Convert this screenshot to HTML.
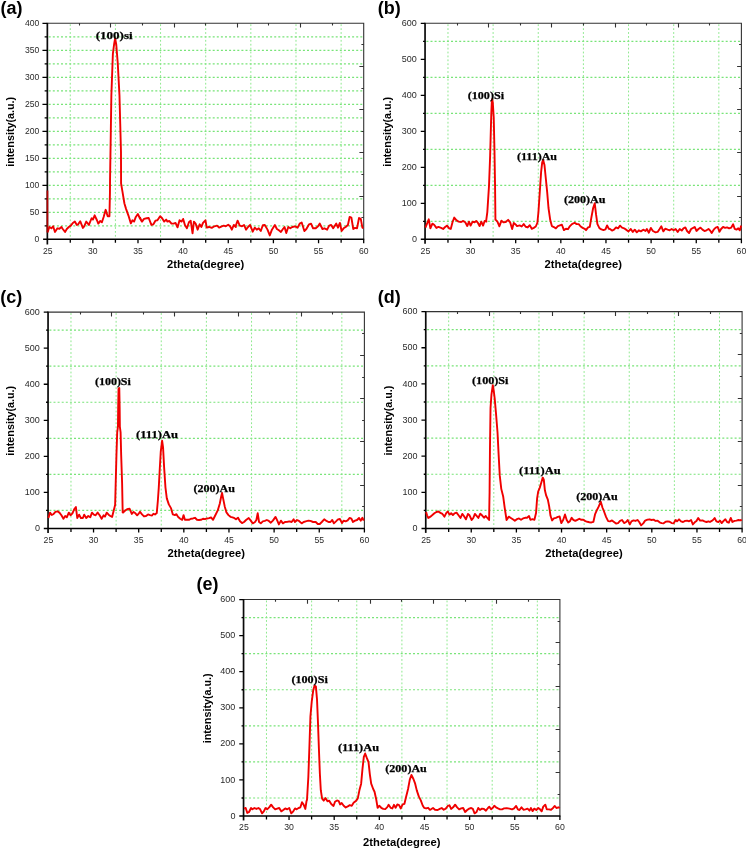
<!DOCTYPE html>
<html><head><meta charset="utf-8"><title>XRD patterns</title>
<style>
html,body{margin:0;padding:0;background:#fff}
svg{display:block}
text{font-family:"Liberation Sans",sans-serif;fill:#000}
.tk text{font-size:8.6px;fill:#2a2a2a}
.tk2 text{font-size:9px}
.tk2 text.xt{font-size:8.7px}
.ax{font-size:10px;font-weight:bold}
.pk{font-family:"Liberation Serif",serif;font-size:10.9px;font-weight:bold;stroke:#000;stroke-width:0.25px}
.pl{font-size:18px;font-weight:bold}
</style></head><body>
<svg width="746" height="848" viewBox="0 0 746 848">
<rect width="746" height="848" fill="#fff"/>
<g><path d="M48.7 225.8H363.7M48.7 212.3H363.7M48.7 198.8H363.7M48.7 185.3H363.7M48.7 171.8H363.7M48.7 158.3H363.7M48.7 144.8H363.7M48.7 131.3H363.7M48.7 117.8H363.7M48.7 104.3H363.7M48.7 90.8H363.7M48.7 77.3H363.7M48.7 63.8H363.7M48.7 50.3H363.7M48.7 36.8H363.7" stroke="#78e478" stroke-width="1.2" stroke-dasharray="2 2.1" fill="none"/>
<path d="M70.27 24.3V238.3M115.41 24.3V238.3M160.56 24.3V238.3M205.7 24.3V238.3M250.84 24.3V238.3M295.99 24.3V238.3M341.13 24.3V238.3" stroke="#88e888" stroke-width="0.95" stroke-dasharray="1.8 2.1" fill="none"/>
<path d="M47.7 23.3H363.7V239.3M79.5 23.3v2.3M363.7 44.5h-2.3M110.5 23.3v4.3M363.7 66.5h-4.3M142.5 23.3v2.3M363.7 88.5h-2.3M174.5 23.3v4.3M363.7 109.5h-4.3M205.5 23.3v2.3M363.7 131.5h-2.3M237.5 23.3v4.3M363.7 152.5h-4.3M268.5 23.3v2.3M363.7 174.5h-2.3M300.5 23.3v4.3M363.7 196.5h-4.3M332.5 23.3v2.3M363.7 217.5h-2.3" stroke="#333" stroke-width="1.1" fill="none"/>
<path d="M47.35 22.8V244.5" stroke="#0a0a0a" stroke-width="1.7" fill="none"/>
<path d="M43.1 239.3H364.2" stroke="#000" stroke-width="1.55" fill="none"/>
<path d="M47.35 225.8h-2.7M47.35 212.3h-4.9M47.35 198.8h-2.7M47.35 185.3h-4.9M47.35 171.8h-2.7M47.35 158.3h-4.9M47.35 144.8h-2.7M47.35 131.3h-4.9M47.35 117.8h-2.7M47.35 104.3h-4.9M47.35 90.8h-2.7M47.35 77.3h-4.9M47.35 63.8h-2.7M47.35 50.3h-4.9M47.35 36.8h-2.7M47.35 23.3h-4.9M70.27 239.3v3.4M92.84 239.3v3.9M115.41 239.3v3.4M137.99 239.3v3.9M160.56 239.3v3.4M183.13 239.3v3.9M205.7 239.3v3.4M228.27 239.3v3.9M250.84 239.3v3.4M273.41 239.3v3.9M295.99 239.3v3.4M318.56 239.3v3.9M341.13 239.3v3.4M363.7 239.3v3.9" stroke="#000" stroke-width="1.3" fill="none"/>
<path d="M47.62 232.33 49.36 226.97 51.37 228.31 53.12 226.3 54.99 231.93 57.4 228.31 59.42 228.71 61.43 226.97 62.77 228.98 65.05 231.93 66.79 228.98 68.8 226.97 70.81 225.63 72.82 222.95 74.83 221.61 76.84 224.96 78.18 224.29 80.19 221.21 82.87 227.91 84.21 226.3 86.23 221.61 88.91 224.96 91.59 218.26 92.93 219.6 94.67 215.31 96.95 220.27 98.29 223.62 100.3 220.94 101.91 222.28 103.65 216.92 105.66 209.81 107.67 216.25 109.42 216.25 109.95 192.79 110.04 180 110.79 133.21 111.36 95.47 112.87 53.96 114.19 43.58 115.13 38.3 116.26 44.53 117.77 63.4 119.47 95.47 120.23 123.77 120.98 152.08 121.08 183.4 122.42 191.45 124.43 203.51 126.04 208.87 128.45 215.58 130.86 223.35 132.47 220.27 134.08 221.61 135.82 216.92 137.83 213.97 139.84 218.26 141.86 221.61 140 217.59 142.01 221.61 144.02 218.93 146.7 218.26 148.71 217.99 151.39 224.96 153.4 224.29 155.42 220.67 157.43 220.27 160.11 216.25 162.12 218.26 164.13 221.61 166.14 219.6 167.48 221.61 169.22 220.94 171.5 223.62 173.51 223.62 175.52 222.95 177.53 227.37 179.54 220.27 181.55 221.61 183.16 218.93 184.91 224.96 186.92 228.31 188.93 222.28 190.67 220.67 192.55 233.27 193.89 221.61 195.63 223.62 197.64 229.65 199.65 224.29 201.39 226.97 203 222.95 205.42 220.27 206.76 227.64 209.03 226.97 211.72 227.91 214.4 226.3 217.08 225.63 219.09 227.64 221.77 226.3 223.78 225.63 225.79 226.3 228.2 224.69 230.08 226.3 231.82 229.65 233.83 224.96 235.84 226.97 236 224.96 237.61 220.67 239.75 225.63 242.03 226.3 244.04 224.96 246.05 229.65 248.06 226.97 250.08 224.96 252.76 231.66 254.77 227.64 256.78 229.65 258.79 228.31 260.8 230.99 262.81 225.23 264.82 224.96 267.5 229.65 269.78 235.42 271.92 229.65 274.87 224.96 276.88 228.98 278.9 230.32 280.91 231.93 282.92 228.98 284.53 226.97 286.27 233 288.28 226.97 290.29 228.31 292.3 226.97 294.98 226.3 297.66 227.64 299.67 223.62 301.68 222.55 304.36 230.99 306.38 228.98 309.06 224.29 311.07 223.62 313.08 228.31 315.76 228.31 318.04 226.3 319.78 223.62 322.46 228.98 324.47 228.31 327.15 229.65 329.16 225.63 331.17 224.96 333.18 228.31 336.25 223.62 337.99 227.64 339.87 222.95 341.61 230.99 343.62 228.31 345.63 226.97 347.91 224.96 349.65 216.92 351.39 217.59 353.27 228.98 355.01 227.91 357.02 228.31 359.03 217.99 360.78 218.93 362.39 227.64 363.46 228.31" stroke="#f00000" stroke-width="1.9" fill="none" stroke-linejoin="round" stroke-linecap="butt"/>
<path d="M47.45 190.5V232.5" stroke="#b00000" stroke-width="1.7" fill="none"/>
<g class="tk"><text x="39.3" y="242.4" text-anchor="end">0</text><text x="39.3" y="215.4" text-anchor="end">50</text><text x="39.3" y="188.4" text-anchor="end">100</text><text x="39.3" y="161.4" text-anchor="end">150</text><text x="39.3" y="134.4" text-anchor="end">200</text><text x="39.3" y="107.4" text-anchor="end">250</text><text x="39.3" y="80.4" text-anchor="end">300</text><text x="39.3" y="53.4" text-anchor="end">350</text><text x="39.3" y="26.4" text-anchor="end">400</text><text x="47.7" y="253.8" text-anchor="middle" class="xt">25</text><text x="92.84" y="253.8" text-anchor="middle" class="xt">30</text><text x="137.99" y="253.8" text-anchor="middle" class="xt">35</text><text x="183.13" y="253.8" text-anchor="middle" class="xt">40</text><text x="228.27" y="253.8" text-anchor="middle" class="xt">45</text><text x="273.41" y="253.8" text-anchor="middle" class="xt">50</text><text x="318.56" y="253.8" text-anchor="middle" class="xt">55</text><text x="363.7" y="253.8" text-anchor="middle" class="xt">60</text></g>
<text class="ax" x="166.9" y="267.6" textLength="77.4" lengthAdjust="spacingAndGlyphs">2theta(degree)</text>
<text class="ax" transform="translate(13.7 131.8) rotate(-90)" x="-35" y="0" textLength="70" lengthAdjust="spacingAndGlyphs">intensity(a.u.)</text>
<text class="pk" x="95.7" y="38.9" textLength="37" lengthAdjust="spacingAndGlyphs">(100)si</text>
<text class="pl" x="0.4" y="14.2">(a)</text></g>
<g><path d="M426.4 221.3H741.4M426.4 185.3H741.4M426.4 149.3H741.4M426.4 113.3H741.4M426.4 77.3H741.4M426.4 41.3H741.4" stroke="#78e478" stroke-width="1.2" stroke-dasharray="2 2.1" fill="none"/>
<path d="M447.97 24.3V238.3M493.11 24.3V238.3M538.26 24.3V238.3M583.4 24.3V238.3M628.54 24.3V238.3M673.69 24.3V238.3M718.83 24.3V238.3" stroke="#88e888" stroke-width="0.95" stroke-dasharray="1.8 2.1" fill="none"/>
<path d="M425.4 23.3H741.4V239.3M457.5 23.3v2.3M741.4 44.5h-2.3M488.5 23.3v4.3M741.4 66.5h-4.3M520.5 23.3v2.3M741.4 88.5h-2.3M551.5 23.3v4.3M741.4 109.5h-4.3M583.5 23.3v2.3M741.4 131.5h-2.3M615.5 23.3v4.3M741.4 152.5h-4.3M646.5 23.3v2.3M741.4 174.5h-2.3M678.5 23.3v4.3M741.4 196.5h-4.3M709.5 23.3v2.3M741.4 217.5h-2.3" stroke="#333" stroke-width="1.1" fill="none"/>
<path d="M425.05 22.8V243.7" stroke="#0a0a0a" stroke-width="1.7" fill="none"/>
<path d="M420.8 239.3H741.9" stroke="#000" stroke-width="1.55" fill="none"/>
<path d="M425.05 221.3h-2M425.05 203.3h-4.3M425.05 185.3h-2M425.05 167.3h-4.3M425.05 149.3h-2M425.05 131.3h-4.3M425.05 113.3h-2M425.05 95.3h-4.3M425.05 77.3h-2M425.05 59.3h-4.3M425.05 41.3h-2M425.05 23.3h-4.3M447.97 239.3v3.4M470.54 239.3v3.9M493.11 239.3v3.4M515.69 239.3v3.9M538.26 239.3v3.4M560.83 239.3v3.9M583.4 239.3v3.4M605.97 239.3v3.9M628.54 239.3v3.4M651.11 239.3v3.9M673.69 239.3v3.4M696.26 239.3v3.9M718.83 239.3v3.4M741.4 239.3v3.9" stroke="#000" stroke-width="1.3" fill="none"/>
<path d="M425.42 227.64 427.03 223.62 428.77 219.33 430.38 228.31 432.39 223.62 434.14 224.69 436.42 227.91 438.43 226.97 441.11 227.91 443.12 228.98 445.13 226.97 447.14 225.63 449.15 228.31 450.76 228.98 452.5 222.28 454.24 217.59 456.52 220.27 458.53 221.61 461.21 222.01 463.23 220.94 465.24 222.28 467.25 226.03 468.99 221.61 470.6 225.63 472.61 221.61 474.62 222.28 476.23 220.94 477.97 222.95 479.58 226.03 481.32 221.61 483.06 225.63 484.67 220.94 486.42 221.61 486.19 220.57 487.32 212.08 489.02 185.66 490.15 155.47 490.91 127.17 491.28 113.96 491.85 100.75 492.23 98.87 492.79 102.64 493.74 117.74 494.49 151.7 495.06 185.66 495.43 219.62 495.53 219.6 497.41 221.61 499.42 226.3 501.43 220.67 503.44 222.28 505.72 222.01 508.13 219.87 510.14 222.28 512.15 228.98 513.76 222.95 516.17 224.96 517 226.1 519.68 225.43 521.69 226.5 523.7 224.09 525.71 226.77 527.72 227.44 529.73 225.16 531.75 228.78 533.76 227.84 535.77 226.5 537.38 222.75 538.45 212.02 539.79 191.92 541.13 171.81 542.2 162.43 543.14 160.01 544.48 165.11 545.82 178.51 547.16 191.92 548.5 208 550.24 220.07 551.85 226.1 553.86 227.04 555.87 228.38 557.88 226.1 559.9 225.43 561.91 224.76 563.92 230.12 565.93 228.78 567.94 229.18 569.95 226.1 571.96 224.09 574.64 222.75 576.65 224.09 578.66 224.09 580.67 226.5 582.68 227.84 584.69 228.78 586.03 230.12 588.05 227.44 589.79 226.77 591.4 217.39 593.14 208 594.75 203.31 596.09 214.71 597.43 224.09 599.44 228.11 601.45 229.45 603.46 230.12 605.47 229.45 607.08 225.43 608.82 228.78 610 228.98 612.01 230.59 614.02 229.65 616.03 227.37 618.04 228.31 620.05 225.63 622.06 227.64 624.08 228.31 626.09 229.65 628.5 231.39 630.78 228.98 632.79 231.93 634.8 229.65 636.81 232.33 638.82 230.32 640.83 231.39 643.24 229.65 645.52 230.99 646.86 228.98 648.87 232.73 650.88 227.91 652.9 230.99 655.58 232.33 657.59 231.93 659.6 228.98 661.34 226.3 663.35 231.39 665.23 228.71 667.64 229.65 669.65 230.32 671.66 228.98 673.67 230.32 675.68 228.98 677.69 231.93 679.71 228.98 681.72 230.59 683.46 228.31 685.34 227.37 687.08 230.99 689.09 233 691.1 228.98 693.11 227.91 694.72 226.97 696.46 230.99 698.47 228.98 700.48 227.64 702.49 229.65 704.5 230.99 706.51 230.32 708.53 228.98 709.94 230.32 711.68 233 713.69 229.65 715.71 227.64 717.72 226.97 719.46 231.66 721.07 228.98 723.08 226.97 725.09 227.91 727.1 227.37 729.11 228.31 731.12 227.64 733.13 224.29 734.74 228.98 736.48 229.65 738.23 228.31 739.83 230.32 741.17 225.63" stroke="#f00000" stroke-width="1.9" fill="none" stroke-linejoin="round" stroke-linecap="butt"/>
<g class="tk tk2"><text x="416.9" y="241.9" text-anchor="end">0</text><text x="416.9" y="205.9" text-anchor="end">100</text><text x="416.9" y="169.9" text-anchor="end">200</text><text x="416.9" y="133.9" text-anchor="end">300</text><text x="416.9" y="97.9" text-anchor="end">400</text><text x="416.9" y="61.9" text-anchor="end">500</text><text x="416.9" y="25.9" text-anchor="end">600</text><text x="425.4" y="253.9" text-anchor="middle" class="xt">25</text><text x="470.54" y="253.9" text-anchor="middle" class="xt">30</text><text x="515.69" y="253.9" text-anchor="middle" class="xt">35</text><text x="560.83" y="253.9" text-anchor="middle" class="xt">40</text><text x="605.97" y="253.9" text-anchor="middle" class="xt">45</text><text x="651.11" y="253.9" text-anchor="middle" class="xt">50</text><text x="696.26" y="253.9" text-anchor="middle" class="xt">55</text><text x="741.4" y="253.9" text-anchor="middle" class="xt">60</text></g>
<text class="ax" x="544.6" y="267.9" textLength="77.4" lengthAdjust="spacingAndGlyphs">2theta(degree)</text>
<text class="ax" transform="translate(391.4 131.8) rotate(-90)" x="-35" y="0" textLength="70" lengthAdjust="spacingAndGlyphs">intensity(a.u.)</text>
<text class="pk" x="467.7" y="98.6" textLength="36.4" lengthAdjust="spacingAndGlyphs">(100)Si</text>
<text class="pk" x="517" y="159.5" textLength="40" lengthAdjust="spacingAndGlyphs">(111)Au</text>
<text class="pk" x="563.9" y="203.3" textLength="41.6" lengthAdjust="spacingAndGlyphs">(200)Au</text>
<text class="pl" x="377.8" y="14.2">(b)</text></g>
<g><path d="M49.4 510.47H364.4M49.4 474.4H364.4M49.4 438.33H364.4M49.4 402.27H364.4M49.4 366.2H364.4M49.4 330.13H364.4" stroke="#78e478" stroke-width="1.2" stroke-dasharray="2 2.1" fill="none"/>
<path d="M70.97 313.1V527.5M116.11 313.1V527.5M161.26 313.1V527.5M206.4 313.1V527.5M251.54 313.1V527.5M296.69 313.1V527.5M341.83 313.1V527.5" stroke="#88e888" stroke-width="0.95" stroke-dasharray="1.8 2.1" fill="none"/>
<path d="M48.4 312.1H364.4V528.5M80.5 312.1v2.3M364.4 333.5h-2.3M111.5 312.1v4.3M364.4 355.5h-4.3M143.5 312.1v2.3M364.4 377.5h-2.3M174.5 312.1v4.3M364.4 398.5h-4.3M206.5 312.1v2.3M364.4 420.5h-2.3M238.5 312.1v4.3M364.4 441.5h-4.3M269.5 312.1v2.3M364.4 463.5h-2.3M301.5 312.1v4.3M364.4 485.5h-4.3M332.5 312.1v2.3M364.4 506.5h-2.3" stroke="#333" stroke-width="1.1" fill="none"/>
<path d="M48.05 311.6V532.9" stroke="#0a0a0a" stroke-width="1.7" fill="none"/>
<path d="M43.8 528.5H364.9" stroke="#000" stroke-width="1.55" fill="none"/>
<path d="M48.05 510.47h-2M48.05 492.43h-4.3M48.05 474.4h-2M48.05 456.37h-4.3M48.05 438.33h-2M48.05 420.3h-4.3M48.05 402.27h-2M48.05 384.23h-4.3M48.05 366.2h-2M48.05 348.17h-4.3M48.05 330.13h-2M48.05 312.1h-4.3M70.97 528.5v3.4M93.54 528.5v3.9M116.11 528.5v3.4M138.69 528.5v3.9M161.26 528.5v3.4M183.83 528.5v3.9M206.4 528.5v3.4M228.97 528.5v3.9M251.54 528.5v3.4M274.11 528.5v3.9M296.69 528.5v3.4M319.26 528.5v3.9M341.83 528.5v3.4M364.4 528.5v3.9" stroke="#000" stroke-width="1.3" fill="none"/>
<path d="M48.42 517.98 50.03 512.62 51.77 515.03 53.65 513.96 55.39 511.95 57.4 511.28 59.42 512.62 61.43 515.3 63.44 518.65 65.18 515.97 66.79 517.31 68.8 512.62 70.54 515.3 72.42 513.29 74.16 509.27 75.9 506.99 77.24 517.98 79.12 514.63 80.86 517.98 82.87 517.98 84.21 514.63 86.23 517.98 88.24 515.97 90.25 517.31 91.99 512.62 93.87 514.63 95.61 515.3 97.62 512.62 99.63 515.3 101.64 518.65 103.65 515.3 104.99 516.64 106.73 512.62 108.61 514.63 110.35 515.97 112.1 516.91 113.71 510.61 115.05 505.25 115.13 504.91 115.7 483.21 116.45 454.91 117.21 432.26 117.96 426.6 118.15 409.62 118.53 388.87 119.28 387.92 119.66 407.74 119.85 426.6 120.6 432.26 121.17 454.91 122.11 483.21 122.68 512.45 123.09 512.62 125.1 510.61 127.11 509.27 129.52 508.6 131.8 513.96 133.54 511.95 135.42 513.29 137.16 515.3 138.91 513.29 140 511.75 142.01 514.43 144.02 516.44 146.03 516.04 148.04 514.43 150.05 515.1 152.06 515.5 153.4 513.76 155.01 514.43 156.76 513.09 157.83 501.02 158.77 487.62 159.84 467.51 160.78 451.43 162.12 440.7 163.06 447.4 164.13 467.51 165.47 487.62 166.81 498.34 168.82 504.38 171.1 508.4 172.84 514.43 174.85 515.1 176.46 514.16 178.2 517.11 180.21 518.72 182.23 519.79 183.57 515.1 184.91 519.79 186.92 519.79 188.93 519.79 190.94 518.72 192.95 518.45 194.96 517.78 196.97 519.79 198.98 520.06 200.99 519.79 203 518.72 205.01 519.12 207.02 518.45 209.03 518.18 211.05 517.38 213.06 519.79 215.07 515.77 217.75 510.41 219.76 503.71 221.1 497 222.04 492.98 223.11 498.34 224.72 506.39 226.46 512.42 228.47 515.1 230.48 516.84 232.49 517.38 234.5 518.18 236 519.32 238.01 517.71 240.02 521.33 242.03 523.08 244.04 522 246.05 519.99 248.73 517.98 250.75 520.66 252.76 523.34 254.77 522.27 256.38 519.99 257.72 513.29 259.06 522 260.8 523.34 262.81 521.33 264.82 520.93 266.83 519.99 268.84 520.93 270.85 522.67 272.86 520.66 275.54 516.91 277.29 520.66 278.9 524.42 280.91 520.66 282.92 523.34 284.93 522 287.61 521.73 289.62 521.33 291.63 522 293.64 519.32 294.98 522 296.99 519.99 299 520.93 301.68 523.34 303.69 522 305.71 521.33 308.39 520.66 310.4 520.93 313.08 522 315.76 522 317.77 524.01 319.78 524.01 321.79 522 324.2 519.32 326.48 520.93 328.49 522 330.5 522 332.25 519.99 333.86 523.34 335.98 521.33 337.99 519.32 339.87 519.05 342.01 523.08 343.62 520.66 345.63 521.33 347.64 520.39 349.65 517.98 351.39 518.65 353 522 355.01 520.66 357.02 519.99 359.03 517.98 360.78 520.66 362.39 517.71 363.73 520.66" stroke="#f00000" stroke-width="1.9" fill="none" stroke-linejoin="round" stroke-linecap="butt"/>
<g class="tk tk2"><text x="39.9" y="531.1" text-anchor="end">0</text><text x="39.9" y="495.03" text-anchor="end">100</text><text x="39.9" y="458.97" text-anchor="end">200</text><text x="39.9" y="422.9" text-anchor="end">300</text><text x="39.9" y="386.83" text-anchor="end">400</text><text x="39.9" y="350.77" text-anchor="end">500</text><text x="39.9" y="314.7" text-anchor="end">600</text><text x="48.4" y="542.8" text-anchor="middle" class="xt">25</text><text x="93.54" y="542.8" text-anchor="middle" class="xt">30</text><text x="138.69" y="542.8" text-anchor="middle" class="xt">35</text><text x="183.83" y="542.8" text-anchor="middle" class="xt">40</text><text x="228.97" y="542.8" text-anchor="middle" class="xt">45</text><text x="274.11" y="542.8" text-anchor="middle" class="xt">50</text><text x="319.26" y="542.8" text-anchor="middle" class="xt">55</text><text x="364.4" y="542.8" text-anchor="middle" class="xt">60</text></g>
<text class="ax" x="167.6" y="557.4" textLength="77.4" lengthAdjust="spacingAndGlyphs">2theta(degree)</text>
<text class="ax" transform="translate(14.4 420.8) rotate(-90)" x="-35" y="0" textLength="70" lengthAdjust="spacingAndGlyphs">intensity(a.u.)</text>
<text class="pk" x="94.9" y="384.7" textLength="36" lengthAdjust="spacingAndGlyphs">(100)Si</text>
<text class="pk" x="136" y="437.5" textLength="42" lengthAdjust="spacingAndGlyphs">(111)Au</text>
<text class="pk" x="193.4" y="491.9" textLength="41.5" lengthAdjust="spacingAndGlyphs">(200)Au</text>
<text class="pl" x="0.2" y="302.9">(c)</text></g>
<g><path d="M427.1 510.43H742.1M427.1 474.27H742.1M427.1 438.12H742.1M427.1 401.98H742.1M427.1 365.83H742.1M427.1 329.68H742.1" stroke="#78e478" stroke-width="1.2" stroke-dasharray="2 2.1" fill="none"/>
<path d="M448.67 312.6V527.5M493.81 312.6V527.5M538.96 312.6V527.5M584.1 312.6V527.5M629.24 312.6V527.5M674.39 312.6V527.5M719.53 312.6V527.5" stroke="#88e888" stroke-width="0.95" stroke-dasharray="1.8 2.1" fill="none"/>
<path d="M426.1 311.6H742.1V528.5M457.5 311.6v2.3M742.1 333.5h-2.3M489.5 311.6v4.3M742.1 354.5h-4.3M520.5 311.6v2.3M742.1 376.5h-2.3M552.5 311.6v4.3M742.1 398.5h-4.3M584.5 311.6v2.3M742.1 420.5h-2.3M615.5 311.6v4.3M742.1 441.5h-4.3M647.5 311.6v2.3M742.1 463.5h-2.3M678.5 311.6v4.3M742.1 485.5h-4.3M710.5 311.6v2.3M742.1 506.5h-2.3" stroke="#333" stroke-width="1.1" fill="none"/>
<path d="M425.75 311.1V532.9" stroke="#0a0a0a" stroke-width="1.7" fill="none"/>
<path d="M421.5 528.5H742.6" stroke="#000" stroke-width="1.55" fill="none"/>
<path d="M425.75 510.43h-2M425.75 492.35h-4.3M425.75 474.27h-2M425.75 456.2h-4.3M425.75 438.12h-2M425.75 420.05h-4.3M425.75 401.98h-2M425.75 383.9h-4.3M425.75 365.83h-2M425.75 347.75h-4.3M425.75 329.68h-2M425.75 311.6h-4.3M448.67 528.5v3.4M471.24 528.5v3.9M493.81 528.5v3.4M516.39 528.5v3.9M538.96 528.5v3.4M561.53 528.5v3.9M584.1 528.5v3.4M606.67 528.5v3.9M629.24 528.5v3.4M651.81 528.5v3.9M674.39 528.5v3.4M696.96 528.5v3.9M719.53 528.5v3.4M742.1 528.5v3.9" stroke="#000" stroke-width="1.3" fill="none"/>
<path d="M426.09 511.95 427.03 515.3 428.37 517.98 430.38 516.64 432.39 515.03 434.4 513.29 436.42 511.95 438.43 511.55 440.44 512.89 442.45 513.96 444.46 516.64 446.47 512.62 447.81 511.55 449.42 514.63 451.16 513.29 452.9 515.03 454.51 513.29 456.52 512.62 458.53 515.3 460.54 517.98 462.29 513.96 463.9 515.97 465.91 519.32 467.92 513.96 469.53 515.3 471.67 519.99 473.28 517.98 474.89 513.96 476.63 515.97 478.37 517.98 480.25 513.69 481.99 515.3 484 517.71 485.75 515.97 487.35 517.98 489.1 519.99 489.4 502.08 489.58 492.64 489.96 449.25 490.53 407.74 491.47 394.53 492.79 385.09 493.74 390.75 494.68 398.3 496 413.4 497.51 432.26 498.64 454.91 499.77 475.66 501.28 488.87 503.17 496.42 504.68 507.74 506.57 520 508.8 516.64 510.81 517.98 512.82 519.32 514.83 520.66 517 519.12 519.01 518.45 521.02 519.79 523.03 518.45 525.04 517.78 527.05 517.78 529.06 516.04 530.4 519.79 532.42 519.12 534.43 519.79 536.03 513.09 537.11 498.34 538.18 491.64 539.79 487.62 541.4 482.26 542.74 477.57 543.81 479.58 544.88 490.3 546.22 495.66 547.83 499.68 549.17 506.39 550.51 515.77 552.12 520.46 553.86 518.45 555.87 517.78 557.88 516.84 559.63 516.44 561.24 523.14 563.25 519.79 564.99 514.43 566.6 519.79 568.21 522.47 569.95 521.13 571.69 517.78 573.3 519.79 575.31 520.86 577.32 519.79 579.33 518.72 581.34 519.79 583.35 519.79 585.36 521.13 587.38 521.8 589.39 522.2 591.4 522.47 593.41 521.8 595.02 514.43 596.76 510.41 598.77 506.39 600.78 501.69 602.52 507.73 604.13 511.75 606.14 517.11 608.15 521.13 610 521.33 612.01 520.39 614.02 522 616.03 523.61 618.04 523.08 620.05 520.93 622.06 519.99 624.08 523.08 626.09 522 627.69 519.99 629.84 524.42 631.45 521.33 633.46 520.39 635.47 520.93 637.48 519.99 639.22 522 641.1 525.35 643.24 523.34 645.12 520.66 647.53 519.59 649.54 519.32 651.55 519.99 653.57 519.59 655.58 520.93 657.59 520.66 659.6 522.27 661.61 523.08 663.62 523.34 665.63 521.73 667.64 521.33 669.65 521.73 671.66 523.08 673.67 523.34 675.68 519.99 677.02 521.33 679.03 519.32 681.05 521.33 683.06 522 685.07 520.93 687.08 520.66 689.09 521.33 691.1 519.99 692.84 524.42 694.72 522.27 696.46 520.93 698.2 517.98 700.08 520.66 702.49 520.39 704.5 521.33 706.51 522 708.53 521.33 709.94 522 711.68 520.93 713.02 519.99 714.63 517.98 716.38 521.33 718.39 522 719.99 520.66 721.74 523.08 723.75 520.66 725.36 519.32 727.1 522 728.84 522.67 730.72 517.98 732.46 522 734.47 520.93 736.48 520.66 738.49 519.99 740.5 520.39 741.71 519.59" stroke="#f00000" stroke-width="1.9" fill="none" stroke-linejoin="round" stroke-linecap="butt"/>
<g class="tk tk2"><text x="417.6" y="531.1" text-anchor="end">0</text><text x="417.6" y="494.95" text-anchor="end">100</text><text x="417.6" y="458.8" text-anchor="end">200</text><text x="417.6" y="422.65" text-anchor="end">300</text><text x="417.6" y="386.5" text-anchor="end">400</text><text x="417.6" y="350.35" text-anchor="end">500</text><text x="417.6" y="314.2" text-anchor="end">600</text><text x="426.1" y="542.8" text-anchor="middle" class="xt">25</text><text x="471.24" y="542.8" text-anchor="middle" class="xt">30</text><text x="516.39" y="542.8" text-anchor="middle" class="xt">35</text><text x="561.53" y="542.8" text-anchor="middle" class="xt">40</text><text x="606.67" y="542.8" text-anchor="middle" class="xt">45</text><text x="651.81" y="542.8" text-anchor="middle" class="xt">50</text><text x="696.96" y="542.8" text-anchor="middle" class="xt">55</text><text x="742.1" y="542.8" text-anchor="middle" class="xt">60</text></g>
<text class="ax" x="545.3" y="557.4" textLength="77.4" lengthAdjust="spacingAndGlyphs">2theta(degree)</text>
<text class="ax" transform="translate(392.1 420.55) rotate(-90)" x="-35" y="0" textLength="70" lengthAdjust="spacingAndGlyphs">intensity(a.u.)</text>
<text class="pk" x="472" y="383.6" textLength="36.5" lengthAdjust="spacingAndGlyphs">(100)Si</text>
<text class="pk" x="519" y="474.2" textLength="41.6" lengthAdjust="spacingAndGlyphs">(111)Au</text>
<text class="pk" x="576.2" y="500.4" textLength="41.6" lengthAdjust="spacingAndGlyphs">(200)Au</text>
<text class="pl" x="377.8" y="302.9">(d)</text></g>
<g><path d="M244.9 798.01H559.9M244.9 761.92H559.9M244.9 725.84H559.9M244.9 689.76H559.9M244.9 653.67H559.9M244.9 617.59H559.9" stroke="#78e478" stroke-width="1.2" stroke-dasharray="2 2.1" fill="none"/>
<path d="M266.47 600.55V815.05M311.61 600.55V815.05M356.76 600.55V815.05M401.9 600.55V815.05M447.04 600.55V815.05M492.19 600.55V815.05M537.33 600.55V815.05" stroke="#88e888" stroke-width="0.95" stroke-dasharray="1.8 2.1" fill="none"/>
<path d="M243.9 599.55H559.9V816.05M275.5 599.55v2.3M559.9 621.5h-2.3M307.5 599.55v4.3M559.9 642.5h-4.3M338.5 599.55v2.3M559.9 664.5h-2.3M370.5 599.55v4.3M559.9 686.5h-4.3M401.5 599.55v2.3M559.9 707.5h-2.3M433.5 599.55v4.3M559.9 729.5h-4.3M465.5 599.55v2.3M559.9 751.5h-2.3M496.5 599.55v4.3M559.9 772.5h-4.3M528.5 599.55v2.3M559.9 794.5h-2.3" stroke="#333" stroke-width="1.1" fill="none"/>
<path d="M243.55 599.05V820.45" stroke="#0a0a0a" stroke-width="1.7" fill="none"/>
<path d="M239.3 816.05H560.4" stroke="#000" stroke-width="1.55" fill="none"/>
<path d="M243.55 798.01h-2M243.55 779.97h-4.3M243.55 761.92h-2M243.55 743.88h-4.3M243.55 725.84h-2M243.55 707.8h-4.3M243.55 689.76h-2M243.55 671.72h-4.3M243.55 653.67h-2M243.55 635.63h-4.3M243.55 617.59h-2M243.55 599.55h-4.3M266.47 816.05v3.4M289.04 816.05v3.9M311.61 816.05v3.4M334.19 816.05v3.9M356.76 816.05v3.4M379.33 816.05v3.9M401.9 816.05v3.4M424.47 816.05v3.9M447.04 816.05v3.4M469.61 816.05v3.9M492.19 816.05v3.4M514.76 816.05v3.9M537.33 816.05v3.4M559.9 816.05v3.9" stroke="#000" stroke-width="1.3" fill="none"/>
<path d="M244.09 808.66 245.7 807.99 247.31 812.95 249.05 812.01 251.06 807.99 252.4 809.33 254.42 807.99 256.43 808.93 258.44 807.99 260.18 809.33 262.06 813.35 263.8 811.34 265.54 807.99 267.15 809.33 269.16 807.32 271.17 804.64 273.18 807.32 275.19 809.33 277.2 808.66 279.21 807.99 281.23 811.34 283.24 810 285.25 808.39 287.26 809.33 289.27 807.99 291.28 813.35 293.29 811.34 295.03 808.39 296.64 809.33 298.65 807.99 300.39 807.32 302 802.23 303.61 804.64 305.35 808.93 306.45 801.51 307.02 799.62 308.34 776.98 309.47 744.91 310.42 716.6 311.74 701.51 313.25 690.19 314.57 685.47 315.89 686.42 317.02 699.62 317.96 722.26 318.91 748.68 319.85 773.21 320.79 790.19 322.11 798.68 323.72 800.62 325.46 797.94 327.47 801.29 329.08 800.62 331.23 803.97 333.5 805.98 335 801.76 337.01 800.42 338.75 801.09 340.09 804.44 341.7 803.1 343.71 805.78 345.72 807.52 347.73 806.45 349.75 805.11 351.76 805.78 353.77 802.43 355.78 801.09 357.79 798.41 359.4 790.36 361.14 783.66 362.48 768.92 363.82 756.85 365.16 753.5 366.9 758.19 368.51 762.21 369.85 774.28 371.19 783.66 373.2 789.02 374.54 791.71 376.29 799.75 377.63 807.79 379.24 805.78 381.25 807.79 383.26 808.86 385.27 809.13 387.28 807.12 388.62 804.84 390.63 807.79 392.37 808.46 393.98 804.84 395.59 807.79 397.33 804.44 399.08 805.11 400.68 808.46 402.69 804.44 404.44 803.77 406.05 797.07 408.06 789.02 409.8 779.64 411.41 774.95 413.42 778.97 415.16 783.66 416.77 790.36 418.78 796.4 420.79 800.42 422.8 805.78 424.14 807.79 426.15 808.46 428.16 807.79 429.91 809.8 431 809.33 433.01 807.99 435.02 809.73 437.7 810 439.71 808.93 441.72 807.99 443.73 809.73 445.75 808.66 447.76 805.98 449.5 805.31 451.11 808.93 453.12 807.32 455.13 804.64 457.14 807.32 459.15 809.33 461.16 808.39 463.17 807.99 465.18 812.01 467.19 810 469.2 808.66 471.21 807.99 472.82 808.93 474.57 813.35 476.58 812.01 478.18 807.99 479.93 810 481.94 808.66 483.95 808.93 485.96 810.67 487.97 807.99 489.31 806.65 491.05 809.33 492.66 807.99 494.27 805.71 496.01 807.32 498.02 808.39 500.03 809.33 502.05 809.33 504.06 808.39 506.74 808.13 509.42 808.66 512.1 809.33 514.11 808.39 516.12 805.98 517.86 809.33 519.47 810 521.48 807.32 523.49 809.73 525.5 809.33 527.51 808.66 529.53 810.67 530.94 807.99 532.55 811.08 534.29 808.66 536.3 810 538.31 807.99 540.05 809.33 541.66 811.34 543.27 806.65 545.28 804.64 546.76 809.33 549.03 809.33 551.05 809.73 553.06 807.99 554.8 805.98 556.41 807.99 558.42 807.32 559.76 807.99" stroke="#f00000" stroke-width="1.9" fill="none" stroke-linejoin="round" stroke-linecap="butt"/>
<g class="tk tk2"><text x="235.4" y="818.65" text-anchor="end">0</text><text x="235.4" y="782.57" text-anchor="end">100</text><text x="235.4" y="746.48" text-anchor="end">200</text><text x="235.4" y="710.4" text-anchor="end">300</text><text x="235.4" y="674.32" text-anchor="end">400</text><text x="235.4" y="638.23" text-anchor="end">500</text><text x="235.4" y="602.15" text-anchor="end">600</text><text x="243.9" y="829.65" text-anchor="middle" class="xt">25</text><text x="289.04" y="829.65" text-anchor="middle" class="xt">30</text><text x="334.19" y="829.65" text-anchor="middle" class="xt">35</text><text x="379.33" y="829.65" text-anchor="middle" class="xt">40</text><text x="424.47" y="829.65" text-anchor="middle" class="xt">45</text><text x="469.61" y="829.65" text-anchor="middle" class="xt">50</text><text x="514.76" y="829.65" text-anchor="middle" class="xt">55</text><text x="559.9" y="829.65" text-anchor="middle" class="xt">60</text></g>
<text class="ax" x="363.1" y="845.85" textLength="77.4" lengthAdjust="spacingAndGlyphs">2theta(degree)</text>
<text class="ax" transform="translate(211 708.3) rotate(-90)" x="-35" y="0" textLength="70" lengthAdjust="spacingAndGlyphs">intensity(a.u.)</text>
<text class="pk" x="291.4" y="682.6" textLength="36.4" lengthAdjust="spacingAndGlyphs">(100)Si</text>
<text class="pk" x="337.9" y="750.8" textLength="41.1" lengthAdjust="spacingAndGlyphs">(111)Au</text>
<text class="pk" x="385.3" y="772.3" textLength="41.5" lengthAdjust="spacingAndGlyphs">(200)Au</text>
<text class="pl" x="196.5" y="590.4">(e)</text></g>
</svg>
</body></html>
